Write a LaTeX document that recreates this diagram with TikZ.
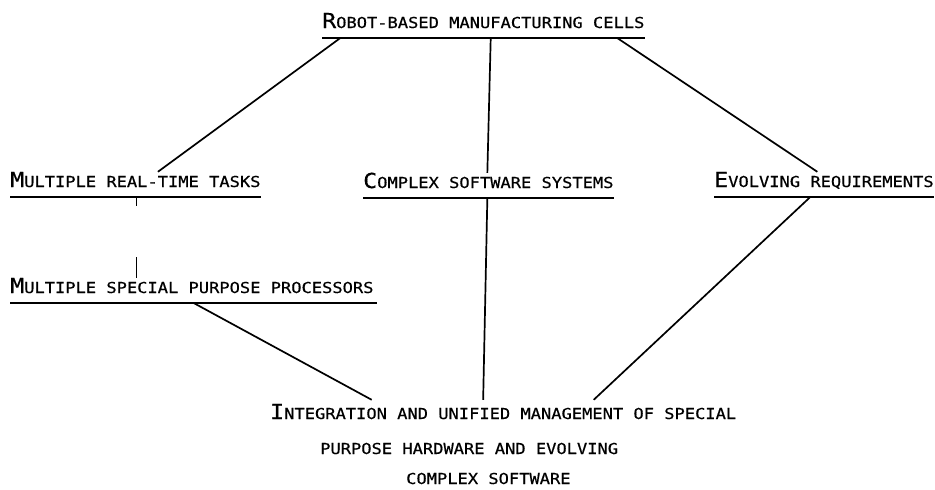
\documentclass[tikz,border=0pt]{standalone}
\usepackage{fontspec}
\usepackage{xcolor}
\definecolor{Black}{RGB}{0,0,0}
\definecolor{White}{RGB}{255,255,255}
\newfontfamily\plotfont[FakeStretch=1.13, FakeBold=0.5]{DejaVu Sans Mono}
\newcommand{\bigletter}[1]{{\fontsize{20.6}{24}\selectfont #1}}
\usepackage{tikz}
\usetikzlibrary{calc}

\begin{document}
\begin{tikzpicture}[x=1pt, y=-1pt,
		cause/.style={font={\plotfont\fontsize{15.1}{18}\selectfont}, color=Black, inner sep=0pt, anchor=base west, text height=15pt, text depth=10pt},
		result/.style={cause, text height=19pt, text depth=0pt},
		rule/.style={draw=Black, line width=2pt},
		link/.style={draw=Black, line width=1.7pt}]
		
		% Frame
		\useasboundingbox[fill=White] (0,0) rectangle (935,490);
		
		% Causes
		\node[cause] (cells) at (322,28) {\bigletter{R}OBOT-BASED MANUFACTURING CELLS};
		\node[cause] (tasks) at (10,187) {\bigletter{M}ULTIPLE REAL-TIME TASKS};
		\node[cause] (software) at (363,188) {\bigletter{C}OMPLEX SOFTWARE SYSTEMS};
		\node[cause] (evolving) at (714,187) {\bigletter{E}VOLVING REQUIREMENTS};
		\node[cause] (processors) at (10,293) {\bigletter{M}ULTIPLE SPECIAL PURPOSE PROCESSORS};
		
		% Underlines
		\draw[rule] (cells.south west) -- (cells.south east);
		\draw[rule] (tasks.south west) -- (tasks.south east);
		\draw[rule] (software.south west) -- (software.south east);
		\draw[rule] (evolving.south west) -- (evolving.south east);
		\draw[rule] (processors.south west) -- ([xshift=3pt]processors.south east);
		
		% Result
		\node[result] (integration) at (270,419) {\bigletter{I}NTEGRATION AND UNIFIED MANAGEMENT OF SPECIAL};
		\node[result] (hardware) at (320,454) {PURPOSE HARDWARE AND EVOLVING};
		\node[result] (complex) at (406,484) {COMPLEX SOFTWARE};
		
		% Links
		\draw[link] ($(cells.south west)!0.056!(cells.south east)$) -- ($(tasks.north west)!0.59!(tasks.north east)$);
		\draw[link] ($(cells.south west)!0.523!(cells.south east)$) -- ($(software.north west)!0.496!(software.north east)$);
		\draw[link] ($(cells.south west)!0.916!(cells.south east)$) -- ($(evolving.north west)!0.47!(evolving.north east)$);
		
		\coordinate (tick) at ($(tasks.south west)!0.504!(tasks.south east)$);
		\draw[link, line width=1.3pt, dash pattern=on 9pt off 51pt on 20pt off 0pt] (tick) -- (tick |- processors.north);
		
		\draw[link] ($(software.south west)!0.496!(software.south east)$) -- ($(integration.north west)!0.457!(integration.north east)$);
		\draw[link] ($(evolving.south west)!0.437!(evolving.south east)$) -- ($(integration.north west)!0.694!(integration.north east)$);
		\draw[link] ($(processors.south west)!0.506!(processors.south east)$) -- ($(integration.north west)!0.218!(integration.north east)$);
		
	\end{tikzpicture}
\end{document}
